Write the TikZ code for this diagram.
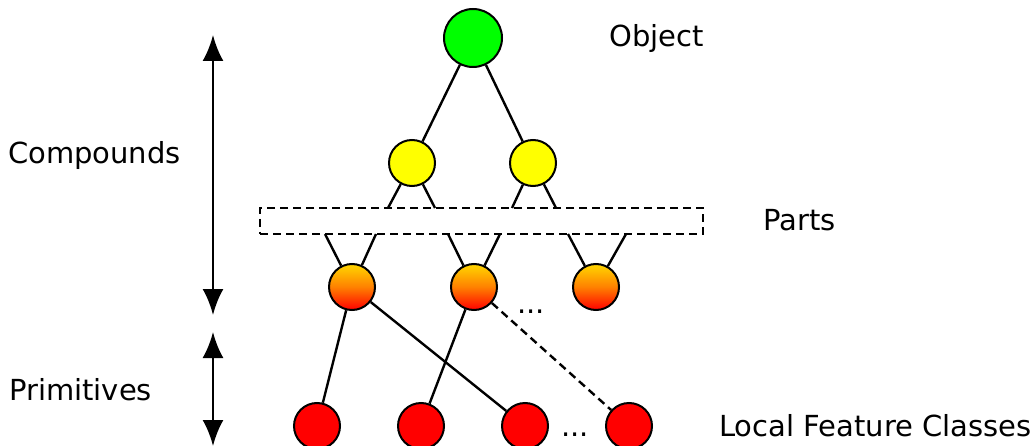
\documentclass[tikz,border=0pt]{standalone}
\usepackage{fontspec}
\setmainfont{DejaVu Sans}
\usetikzlibrary{arrows.meta}
\definecolor{pgreen}{RGB}{0,255,0}
\definecolor{pyellow}{RGB}{255,255,0}
\definecolor{pred}{RGB}{255,0,0}
\definecolor{porangetop}{RGB}{255,215,0}
\begin{document}
\begin{tikzpicture}[x=1pt,y=-1pt,
  circ/.style={circle,draw=black,line width=2pt,inner sep=0pt,minimum size=#1},
  objnode/.style={circ=58pt,fill=pgreen},
  yelnode/.style={circ=46pt,fill=pyellow},
  orgnode/.style={circ=46pt,top color=porangetop,bottom color=pred,middle color={rgb,255:red,255;green,128;blue,0}},
  rednode/.style={circ=46pt,fill=pred},
  edge/.style={line width=2.4pt},
  lbl/.style={font=\fontsize{29}{34}\selectfont,inner sep=0pt,anchor=base west},
  dots/.style={font=\fontsize{29}{34}\selectfont,inner sep=0pt,anchor=base},
  dbl/.style={line width=2.6pt,{Latex[length=26pt,width=21pt]}-{Latex[length=26pt,width=21pt]}}
]
\useasboundingbox (0,0) rectangle (1035,446);
% nodes
\node[objnode] (obj) at (473,38) {};
\node[yelnode] (y1) at (412,163) {};
\node[yelnode] (y2) at (533,163) {};
\node[draw,dashed,dash pattern=on 8pt off 5pt,line width=2.2pt,minimum width=443pt,minimum height=26pt,inner sep=0pt] (parts) at (481.5,221) {};
\node[orgnode] (o1) at (352,287) {};
\node[orgnode] (o2) at (474,287) {};
\node[orgnode] (o3) at (596,287) {};
\node[rednode] (r1) at (317,426) {};
\node[rednode] (r2) at (421,426) {};
\node[rednode] (r3) at (525,426) {};
\node[rednode] (r4) at (629,426) {};
% coordinates on the parts box
\coordinate (t1) at (388,208);
\coordinate (t2) at (435,208);
\coordinate (t3) at (512,208);
\coordinate (t4) at (556,208);
\coordinate (b1) at (325,234);
\coordinate (b2) at (376,234);
\coordinate (b3) at (448,234);
\coordinate (b4) at (500,234);
\coordinate (b5) at (568,234);
\coordinate (b6) at (626,234);
% edges
\draw[edge] (obj) -- (y1);
\draw[edge] (obj) -- (y2);
\draw[edge] (y1) -- (t1);
\draw[edge] (y1) -- (t2);
\draw[edge] (y2) -- (t3);
\draw[edge] (y2) -- (t4);
\draw[edge] (b1) -- (o1);
\draw[edge] (b2) -- (o1);
\draw[edge] (b3) -- (o2);
\draw[edge] (b4) -- (o2);
\draw[edge] (b5) -- (o3);
\draw[edge] (b6) -- (o3);
\draw[edge] (o1) -- (r1);
\draw[edge] (o1) -- (r3);
\draw[edge] (o2) -- (r2);
\draw[edge,dashed,dash pattern=on 8pt off 5pt] (o2) -- (r4);
% dots
\node[dots] (d1) at (531,313) {...};
\node[dots] (d2) at (575,436) {...};
% arrows
\coordinate (a1) at (213,35);
\coordinate (a2) at (213,315);
\coordinate (a3) at (213,332);
\coordinate (a4) at (213,446);
\draw[dbl] (a1) -- (a2);
\draw[dbl] (a3) -- (a4);
% labels
\node[lbl] (lobj) at (609,47) {Object};
\node[lbl] (lcomp) at (8,164) {Compounds};
\node[lbl] (lparts) at (763,231) {Parts};
\node[lbl] (lprim) at (9,400) {Primitives};
\node[lbl] (lloc) at (719,436) {Local Feature Classes};
\end{tikzpicture}
\end{document}
